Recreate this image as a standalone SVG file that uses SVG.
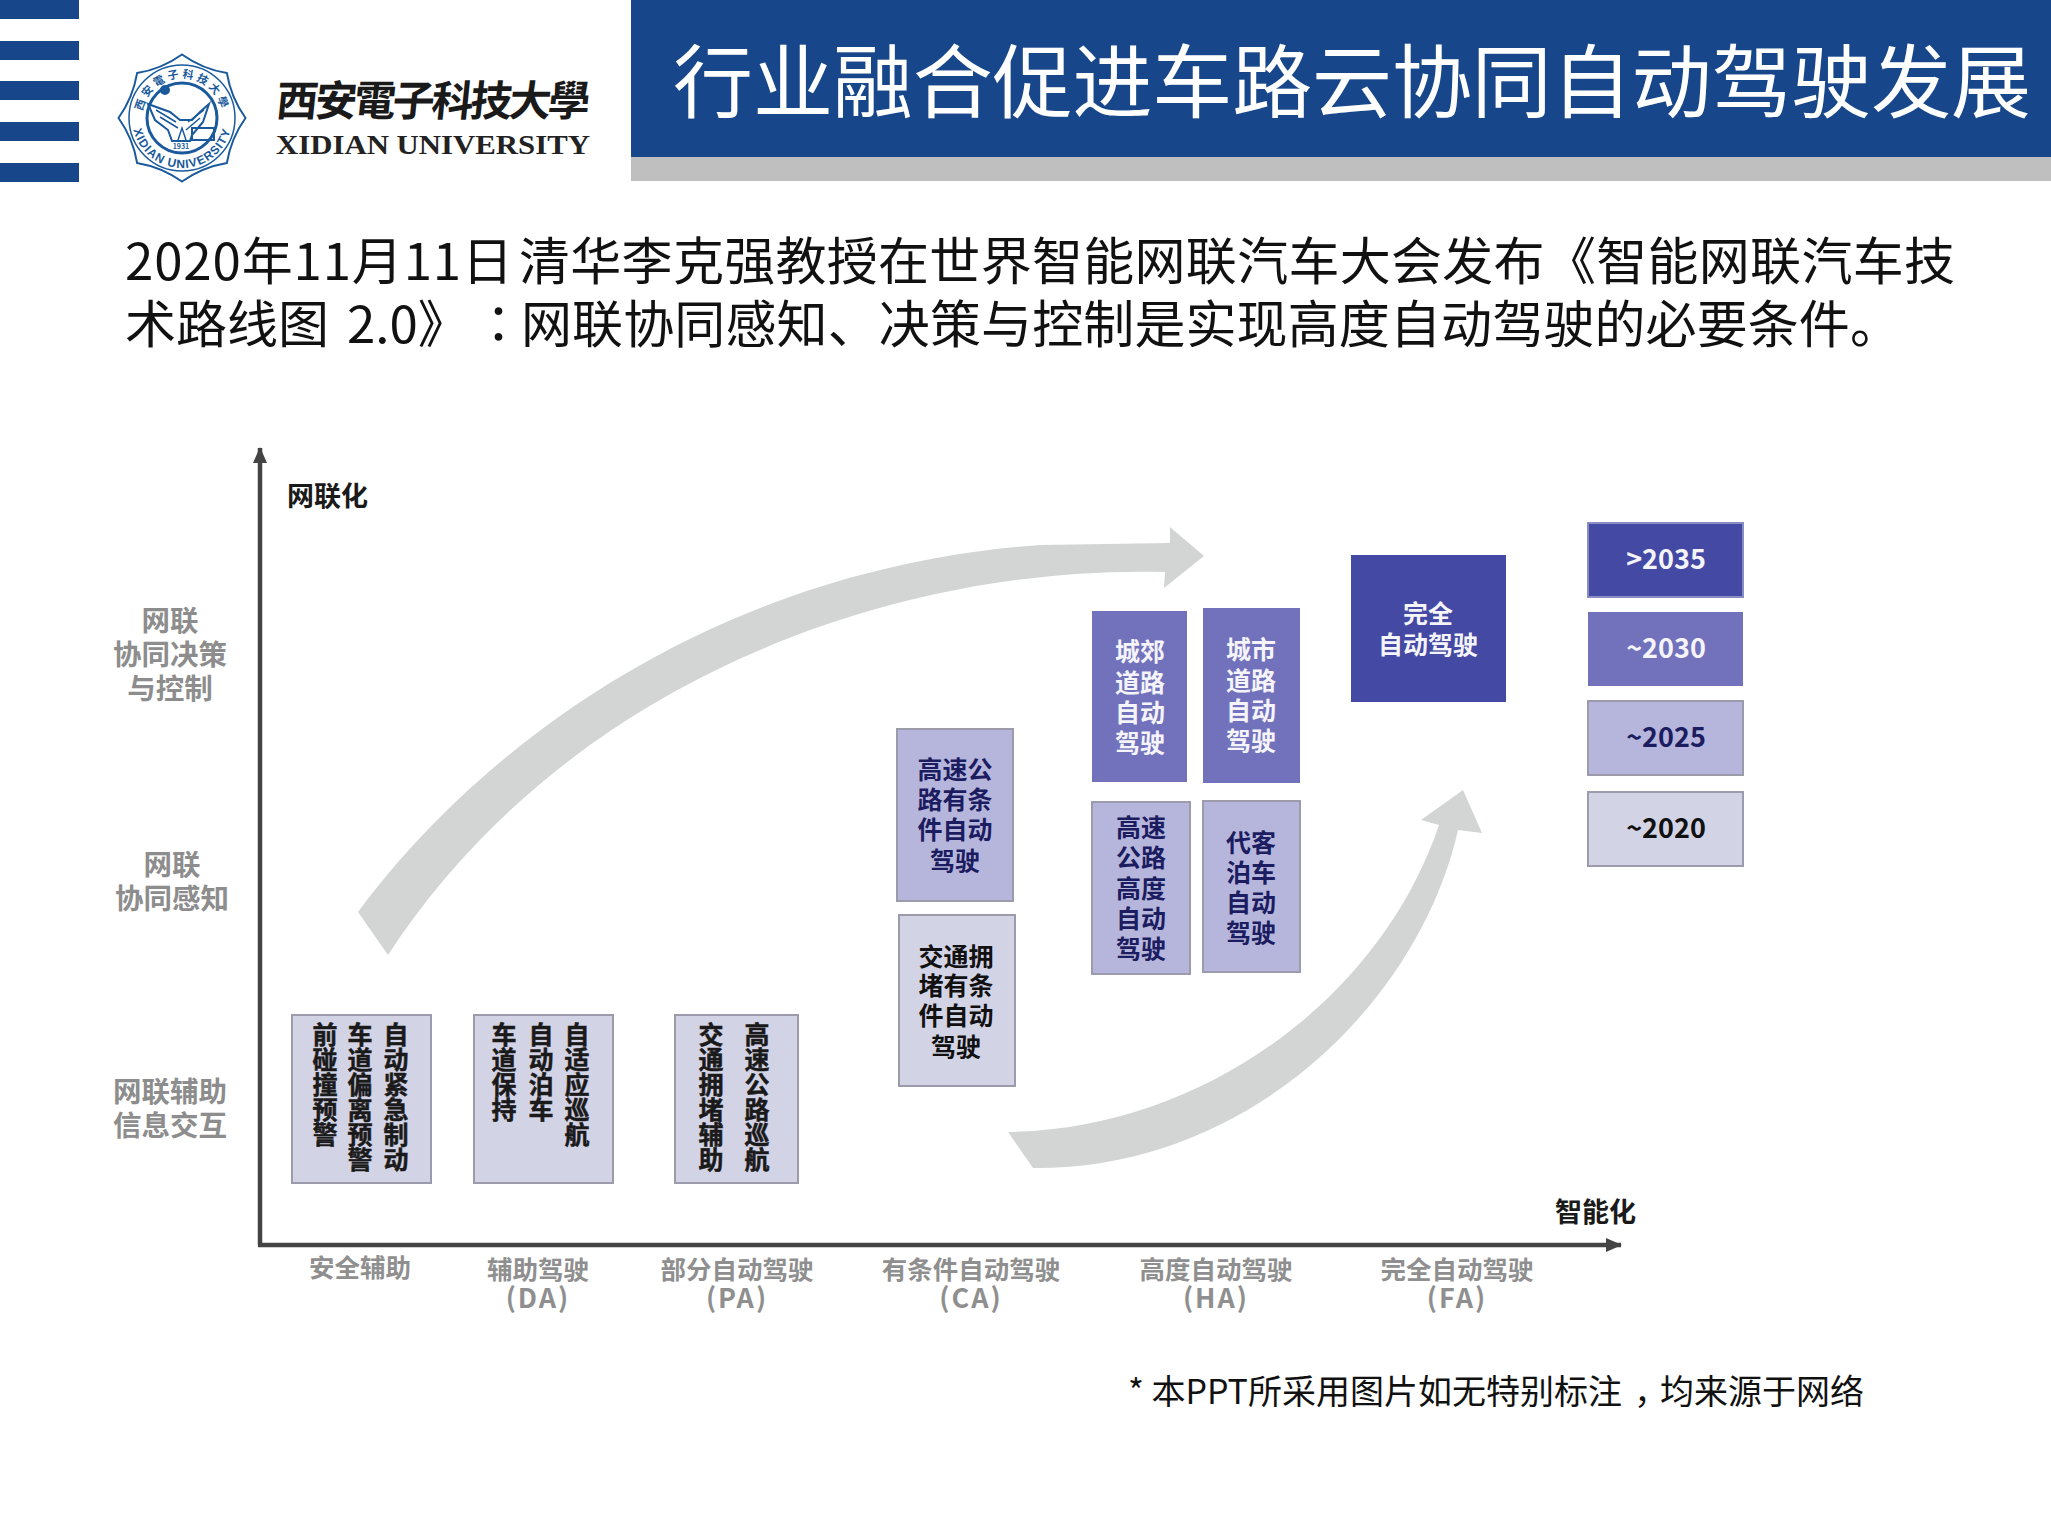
<svg xmlns="http://www.w3.org/2000/svg" width="2051" height="1538" viewBox="0 0 2051 1538">
<style>
text{font-family:"Noto Sans CJK SC","Noto Sans",sans-serif}
.body{font-size:51px;fill:#111}
.title{font-size:80px;fill:#fff}
.box{stroke:#9b9bab;stroke-width:2}
.edge{stroke:#8a8cc4;stroke-width:2}
.l1{fill:#d3d3e6}.l2{fill:#b6b6dd}.l3{fill:#7272bc}.l4{fill:#4449a4}
.t{font-size:25px;font-weight:700;text-anchor:middle}
.y{font-size:27px;font-weight:700;text-anchor:middle}
.dk{fill:#1c1c60}.bk{fill:#111}.wh{fill:#f4f4fa}
.v{font-size:25px;font-weight:700;fill:#1a1a1a;stroke:#1a1a1a;stroke-width:.5;writing-mode:vertical-rl;text-orientation:upright;text-anchor:start}
.g{font-size:28.5px;font-weight:700;fill:#8d8d8d;text-anchor:middle}
.lv{font-size:25.5px;font-weight:700;fill:#8f8f8f;text-anchor:middle}
.la{font-size:27px;font-weight:700;fill:#8f8f8f;text-anchor:middle;letter-spacing:2px}
.ax{font-size:27px;font-weight:700;fill:#1a1a1a}
.bl{fill:#17478a}
.sl{fill:none;stroke:#1a5a9c;stroke-width:2}
.st{font-weight:700;fill:#1a5a9c;text-anchor:middle}
</style>
<defs>
<marker id="ah" markerUnits="userSpaceOnUse" markerWidth="16" markerHeight="16" refX="15" refY="8" orient="auto"><path d="M0 1L16 8L0 15Z" fill="#444"/></marker>
<path id="sealTop" d="M142 118A40 40 0 0 1 222 118"/>
<path id="sealBot" d="M132 118A50 50 0 0 0 232 118"/>
</defs>
<rect width="2051" height="1538" fill="#fff"/>

<g id="header-stripes" class="bl">
<rect y="0" width="79" height="19"/><rect y="41" width="79" height="19"/><rect y="81" width="79" height="19"/><rect y="122" width="79" height="19"/><rect y="163" width="79" height="19"/>
</g>
<g id="seal">
<path class="sl" d="M182 54.5Q202.3 69 226.9 73.1Q231 97.7 245.5 118Q231 138.3 226.9 162.9Q202.3 167 182 181.5Q161.7 167 137.1 162.9Q133 138.3 118.5 118Q133 97.7 137.1 73.1Q161.7 69 182 54.5Z"/>
<circle cx="182" cy="118" r="53" fill="none" stroke="#1a5a9c" stroke-width="1.5"/>
<circle cx="182" cy="118" r="35" fill="none" stroke="#1a5a9c" stroke-width="3"/>
<text class="st" font-size="11" letter-spacing="3"><textPath href="#sealTop" startOffset="50%">西安電子科技大學</textPath></text>
<text class="st" font-size="12" letter-spacing="1" style="font-family:'Liberation Sans',sans-serif"><textPath href="#sealBot" startOffset="50%">XIDIAN UNIVERSITY</textPath></text>
<path d="M148 104L170 112L180 120L192 120L200 112L209 104L203 122L192 135L190 141L172 141L168 130L155 120Z" fill="none" stroke="#1a5a9c" stroke-width="2"/>
<path d="M156 110L176 122M160 117L178 128M204 110L188 122M200 118L186 130M178 140L182 128L186 140" fill="none" stroke="#1a5a9c" stroke-width="1.5"/>
<rect x="192" y="128" width="22" height="12" fill="none" stroke="#1a5a9c" stroke-width="2"/>
<circle cx="165" cy="90" r="5" fill="#1a5a9c"/>
<text x="181" y="149" font-size="7" font-weight="700" fill="#1a5a9c" text-anchor="middle">1931</text>
</g>
<g id="wordmark">
<text x="276" y="116" font-size="42" font-weight="700" fill="#1a1a1a" textLength="314" transform="translate(11 0) skewX(-6)" style="font-family:'Noto Sans CJK TC',sans-serif">西安電子科技大學</text>
<text x="276" y="154" font-size="27" font-weight="700" fill="#222" textLength="314" lengthAdjust="spacingAndGlyphs" style="font-family:'Liberation Serif',serif">XIDIAN UNIVERSITY</text>
</g>
<g id="title">
<rect x="631" y="0" width="1420" height="157" class="bl"/>
<rect x="631" y="157" width="1420" height="24" fill="#bfbfbf"/>
<text class="title" x="673" y="111" textLength="1358">行业融合促进车路云协同自动驾驶发展</text>
</g>
<g id="intro">
<text class="body" x="125" y="280" textLength="388">2020年11月11日</text>
<text class="body" x="519" y="280" textLength="1436">清华李克强教授在世界智能网联汽车大会发布《智能网联汽车技</text>
<text class="body" x="125" y="343">术路线图</text>
<text class="body" x="347" y="343">2.0》</text>
<text class="body" x="473" y="343" style="font-family:'Noto Sans CJK TC',sans-serif">：</text>
<text class="body" x="521" y="343" textLength="1380">网联协同感知、决策与控制是实现高度自动驾驶的必要条件。</text>
</g>

<g id="curved-arrows" fill="#d3d5d5">
<path d="M358 912C470 760 700 570 1040 545L1170 543L1170 527L1204 556L1164 588L1165 572C880 565 560 690 388 955Z"/>
<path d="M1008 1132C1200 1130 1380 1000 1439 825L1421 820L1463 790L1482 833L1458 830C1420 1000 1250 1170 1033 1168Z"/>
</g>
<g id="connectors" fill="none" stroke="#444">
<line x1="260" y1="1245" x2="260" y2="448" stroke-width="4.5" marker-end="url(#ah)"/>
<line x1="258" y1="1245" x2="1621" y2="1245" stroke-width="4.5" marker-end="url(#ah)"/>
</g>

<g id="axis-labels">
<text class="ax" x="287" y="506">网联化</text>
<text class="ax" x="1555" y="1222">智能化</text>
</g>
<g id="y-labels">
<text class="g" x="170" y="631">网联</text><text class="g" x="170" y="665">协同决策</text><text class="g" x="170" y="699">与控制</text>
<text class="g" x="172" y="875">网联</text><text class="g" x="172" y="909">协同感知</text>
<text class="g" x="170" y="1102">网联辅助</text><text class="g" x="170" y="1136">信息交互</text>
</g>
<g id="x-labels">
<text class="lv" x="360" y="1277">安全辅助</text>
<text class="lv" x="538" y="1279">辅助驾驶</text><text class="la" x="538" y="1308">(DA)</text>
<text class="lv" x="737" y="1279">部分自动驾驶</text><text class="la" x="737" y="1308">(PA)</text>
<text class="lv" x="971" y="1279">有条件自动驾驶</text><text class="la" x="971" y="1308">(CA)</text>
<text class="lv" x="1216" y="1279">高度自动驾驶</text><text class="la" x="1216" y="1308">(HA)</text>
<text class="lv" x="1457" y="1279">完全自动驾驶</text><text class="la" x="1457" y="1308">(FA)</text>
</g>

<g id="node-safety">
<rect class="box l1" x="292" y="1015" width="139" height="168"/>
<text class="v" x="396" y="1022">自动紧急制动</text><text class="v" x="360" y="1022">车道偏离预警</text><text class="v" x="325" y="1022">前碰撞预警</text>
</g>
<g id="node-da">
<rect class="box l1" x="474" y="1015" width="139" height="168"/>
<text class="v" x="577" y="1022">自适应巡航</text><text class="v" x="541" y="1022">自动泊车</text><text class="v" x="504" y="1022">车道保持</text>
</g>
<g id="node-pa">
<rect class="box l1" x="675" y="1015" width="123" height="168"/>
<text class="v" x="757" y="1022">高速公路巡航</text><text class="v" x="711" y="1022">交通拥堵辅助</text>
</g>
<g id="node-ca-highway">
<rect class="box l2" x="897" y="729" width="116" height="172"/>
<text class="t dk" x="955" y="779">高速公</text><text class="t dk" x="955" y="809">路有条</text><text class="t dk" x="955" y="839">件自动</text><text class="t dk" x="955" y="870">驾驶</text>
</g>
<g id="node-ca-jam">
<rect class="box l1" x="899" y="915" width="116" height="171"/>
<text class="t bk" x="956" y="966">交通拥</text><text class="t bk" x="956" y="995">堵有条</text><text class="t bk" x="956" y="1025">件自动</text><text class="t bk" x="956" y="1056">驾驶</text>
</g>
<g id="node-ha-suburb">
<rect class="l3" x="1092" y="611" width="95" height="171"/>
<text class="t wh" x="1140" y="661">城郊</text><text class="t wh" x="1140" y="692">道路</text><text class="t wh" x="1140" y="722">自动</text><text class="t wh" x="1140" y="752">驾驶</text>
</g>
<g id="node-ha-city">
<rect class="l3" x="1203" y="608" width="97" height="175"/>
<text class="t wh" x="1251" y="659">城市</text><text class="t wh" x="1251" y="690">道路</text><text class="t wh" x="1251" y="720">自动</text><text class="t wh" x="1251" y="750">驾驶</text>
</g>
<g id="node-ha-highway">
<rect class="box l2" x="1092" y="802" width="98" height="172"/>
<text class="t dk" x="1141" y="837">高速</text><text class="t dk" x="1141" y="867">公路</text><text class="t dk" x="1141" y="898">高度</text><text class="t dk" x="1141" y="928">自动</text><text class="t dk" x="1141" y="958">驾驶</text>
</g>
<g id="node-ha-valet">
<rect class="box l2" x="1203" y="801" width="97" height="171"/>
<text class="t dk" x="1251" y="852">代客</text><text class="t dk" x="1251" y="882">泊车</text><text class="t dk" x="1251" y="912">自动</text><text class="t dk" x="1251" y="942">驾驶</text>
</g>
<g id="node-fa">
<rect class="l4" x="1351" y="555" width="155" height="147"/>
<text class="t wh" x="1428" y="623">完全</text><text class="t wh" x="1428" y="654">自动驾驶</text>
</g>
<g id="legend-2035"><rect class="l4 edge" x="1588" y="523" width="155" height="74"/><text class="y wh" x="1666" y="569">&gt;2035</text></g>
<g id="legend-2030"><rect class="l3" x="1588" y="612" width="155" height="74"/><text class="y wh" x="1666" y="658">~2030</text></g>
<g id="legend-2025"><rect class="box l2" x="1588" y="701" width="155" height="74"/><text class="y dk" x="1666" y="747">~2025</text></g>
<g id="legend-2020"><rect class="box l1" x="1588" y="792" width="155" height="74"/><text class="y bk" x="1666" y="838">~2020</text></g>
<g id="footnote">
<text x="1128" y="1404" font-size="34" fill="#111">* 本PPT所采用图片如无特别标注<tspan dx="12">，</tspan><tspan dx="-8">均来源于网络</tspan></text>
</g>
</svg>
